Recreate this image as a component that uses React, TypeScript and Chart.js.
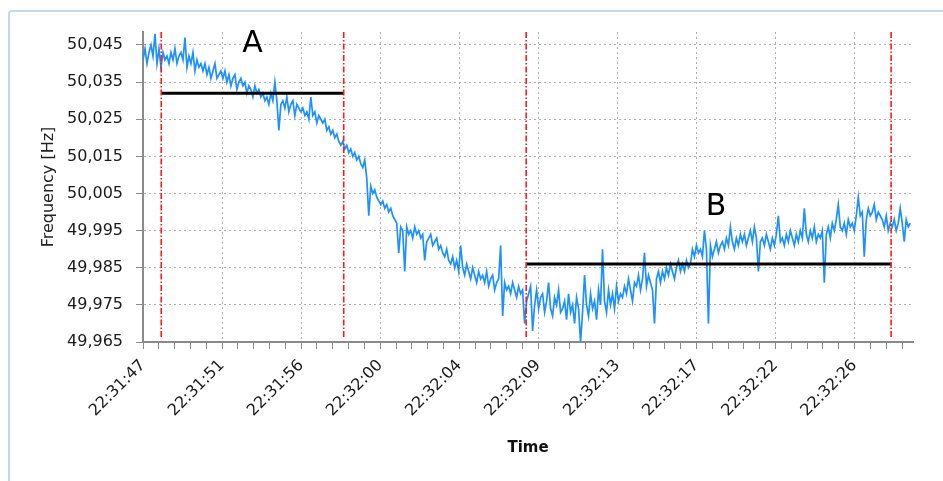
import React, { useEffect, useRef } from 'react';
import { Chart, registerables } from 'chart.js';

Chart.register(...registerables);

// ---------- data ----------
const xTickLabels = [
  '22:31:47', '22:31:51', '22:31:56', '22:32:00', '22:32:04',
  '22:32:09', '22:32:13', '22:32:17', '22:32:22', '22:32:26',
];
const xMajorStepS = 13 / 3; // seconds between labelled ticks
const xMinorPerMajor = 5;
const xMaxS = 42.2;

const yTickValues = [49.965, 49.975, 49.985, 49.995, 50.005, 50.015, 50.025, 50.035, 50.045];
const yTickLabels = ['49,965', '49,975', '49,985', '49,995', '50,005', '50,015', '50,025', '50,035', '50,045'];
const yMin = 49.965;
const yMax = 50.0485;

const nominalHz = 50;
const sampleIntervalS = 0.1095;
// frequency deviation from 50 Hz in mHz
const freqDeviationMilliHz = [
  41, 44, 40, 43, 45, 42, 48, 40, 44, 39,
  43, 41, 42, 40, 43, 41, 44, 40, 42, 43,
  41, 47, 39, 42, 40, 43, 38, 41, 39, 40,
  38, 40, 37, 39, 36, 38, 40, 36, 37, 38,
  36, 38, 35, 37, 34, 36, 37, 33, 35, 36,
  34, 35, 32, 34, 33, 31, 34, 32, 33, 31,
  32, 30, 31, 29, 32, 30, 35, 30, 22, 29,
  30, 28, 31, 27, 29, 30, 26, 29, 28, 27,
  28, 26, 27, 25, 31, 26, 27, 24, 26, 25,
  24, 25, 22, 23, 21, 22, 20, 21, 19, 18,
  19, 17, 18, 16, 17, 15, 16, 14, 15, 13,
  12, 14, 9, -1, 7, 5, 6, 4, 3, 2,
  3, 1, 2, 0, 1, -1, -2, -3, -11, -4,
  -5, -16, -4, -6, -5, -7, -4, -6, -5, -7,
  -6, -13, -8, -7, -6, -9, -8, -7, -10, -9,
  -11, -12, -10, -13, -14, -12, -15, -13, -16, -9,
  -15, -17, -14, -16, -18, -15, -17, -19, -16, -18,
  -17, -19, -16, -20, -18, -17, -21, -19, -18, -9,
  -28, -19, -21, -20, -22, -19, -21, -23, -20, -22,
  -21, -30, -24, -22, -20, -32, -25, -21, -26, -23,
  -22, -27, -24, -19, -26, -28, -23, -25, -21, -27,
  -26, -24, -29, -22, -27, -25, -30, -23, -26, -35,
  -27, -17, -25, -28, -22, -26, -24, -29, -21, -25,
  -10, -24, -27, -21, -25, -22, -26, -20, -24, -22,
  -23, -20, -22, -18, -21, -24, -19, -20, -17, -21,
  -18, -11, -20, -17, -19, -21, -30, -18, -16, -19,
  -16, -18, -15, -17, -14, -16, -18, -15, -13, -16,
  -14, -16, -13, -15, -14, -10, -12, -9, -11, -10,
  -12, -5, -10, -30, -9, -12, -10, -8, -11, -9,
  -8, -10, -7, -9, -4, -8, -10, -7, -9, -6,
  -8, -6, -9, -7, -5, -8, -4, -7, -16, -8,
  -7, -9, -6, -8, -10, -7, -9, -6, -1, -8,
  -7, -9, -6, -8, -5, -7, -9, -6, -8, -5,
  -7, 1, -6, -8, -5, -7, -4, -8, -6, -7,
  -5, -19, -6, -4, -7, -3, -5, -2, 2, -4,
  -5, -3, -6, -2, -4, -3, -5, -1, 4, -1,
  0, -12, -2, 1, -1, 0, 2, -2, 0, -1,
  -2, -4, -1, -5, -3, -4, -2, -5, -3, 1,
  -3, -8, -2, -4, -3,
];

const markerTimesS = [1, 11, 21, 41];
const markerBottomHz = 49.966;

const windowA = { startS: 1, endS: 11, meanHz: 50.032 };
const windowB = { startS: 21, endS: 41, meanHz: 49.986 };

const windowLabels = [
  { text: 'A', tS: 6.0, hz: 50.0453 },
  { text: 'B', tS: 31.4, hz: 50.0013 },
];

// ---------- chart ----------
const FONT = "'DejaVu Sans', Verdana, sans-serif";

const labelPlugin = {
  id: 'windowLabels',
  afterDatasetsDraw(chart: any) {
    const { ctx, scales } = chart;
    ctx.save();
    ctx.font = `30px ${FONT}`;
    ctx.fillStyle = '#000';
    ctx.textAlign = 'center';
    ctx.textBaseline = 'middle';
    for (const l of windowLabels) {
      ctx.fillText(l.text, scales.x.getPixelForValue(l.tS), scales.y.getPixelForValue(l.hz));
    }
    ctx.restore();
  },
};

export default function App() {
  const ref = useRef<HTMLCanvasElement | null>(null);

  useEffect(() => {
    if (!ref.current) return;
    const trace = freqDeviationMilliHz.map((d, i) => ({ x: i * sampleIntervalS, y: nominalHz + d / 1000 }));
    const markerSets = markerTimesS.map((t) => ({
      type: 'line' as const,
      data: [{ x: t, y: yMax }, { x: t, y: markerBottomHz }],
      borderColor: '#ff1a1a',
      borderWidth: 1.6,
      borderDash: [6, 2, 1.5, 2],
      pointRadius: 0,
      order: 0,
    }));
    const meanSets = [windowA, windowB].map((w) => ({
      type: 'line' as const,
      data: [{ x: w.startS, y: w.meanHz }, { x: w.endS, y: w.meanHz }],
      borderColor: '#000000',
      borderWidth: 3,
      pointRadius: 0,
      order: 1,
    }));
    const gridGray = 'rgba(160,160,160,0.85)';
    const axisGray = '#8a8a8a';
    const chart = new Chart(ref.current, {
      type: 'line',
      data: {
        datasets: [
          {
            data: trace,
            borderColor: '#1e90ff',
            borderWidth: 1.7,
            pointRadius: 0,
            tension: 0,
            order: 3,
          } as any,
          ...meanSets,
          ...markerSets,
        ],
      },
      plugins: [labelPlugin],
      options: {
        animation: false,
        responsive: false,
        devicePixelRatio: 1,
        parsing: false as any,
        layout: { padding: { top: 32, right: 30, left: 0, bottom: 0 } },
        plugins: { legend: { display: false }, tooltip: { enabled: false } },
        scales: {
          x: {
            type: 'linear',
            min: 0,
            max: xMaxS,
            afterBuildTicks(scale: any) {
              const step = xMajorStepS / xMinorPerMajor;
              const ticks = [];
              for (let k = 0; k * step <= xMaxS + 1e-9; k++) ticks.push({ value: k * step });
              scale.ticks = ticks;
            },
            afterFit(scale: any) {
              scale.height = 139;
            },
            ticks: {
              autoSkip: false,
              minRotation: 45,
              maxRotation: 45,
              padding: 7,
              color: '#1a1a1a',
              font: { family: FONT, size: 16 },
              callback: (_v: any, i: number) => (i % xMinorPerMajor === 0 ? xTickLabels[i / xMinorPerMajor] ?? '' : ''),
            },
            grid: {
              color: (c: any) => (c.index % xMinorPerMajor === 0 ? gridGray : 'rgba(0,0,0,0)'),
              lineWidth: 1,
              tickColor: axisGray,
              tickLength: 7,
              tickBorderDash: [],
            } as any,
            border: { color: axisGray, width: 2, dash: [2, 3] } as any,
            title: {
              display: true,
              text: 'Time',
              color: '#111',
              font: { family: FONT, size: 15, weight: 'bold' },
              padding: { top: 0, bottom: 24 },
            },
          },
          y: {
            type: 'linear',
            min: yMin,
            max: yMax,
            afterBuildTicks(scale: any) {
              scale.ticks = yTickValues.map((v) => ({ value: v }));
            },
            afterFit(scale: any) {
              scale.width = 143;
            },
            ticks: {
              padding: 13,
              color: '#1a1a1a',
              font: { family: FONT, size: 16 },
              callback: (_v: any, i: number) => yTickLabels[i],
            },
            grid: {
              color: gridGray,
              lineWidth: 1,
              tickColor: axisGray,
              tickLength: 7,
              tickBorderDash: [],
            } as any,
            border: { color: axisGray, width: 2, dash: [2, 3] } as any,
            title: {
              display: true,
              text: 'Frequency [Hz]',
              color: '#222',
              font: { family: FONT, size: 16 },
              padding: { top: 39, bottom: 0 },
            },
          },
        },
      } as any,
    });
    return () => chart.destroy();
  }, []);

  return (
    <div style={{ position: 'fixed', left: 0, top: 0, width: 943, height: 481, background: '#fff', overflow: 'hidden' }}>
      <div
        style={{
          position: 'absolute',
          left: 8,
          top: 10,
          width: 1000,
          height: 600,
          border: '2px solid #c9d6e8',
          borderRadius: 4,
          boxSizing: 'border-box',
        }}
      />
      <canvas ref={ref} width={943} height={481} style={{ position: 'absolute', left: 0, top: 0 }} />
    </div>
  );
}
